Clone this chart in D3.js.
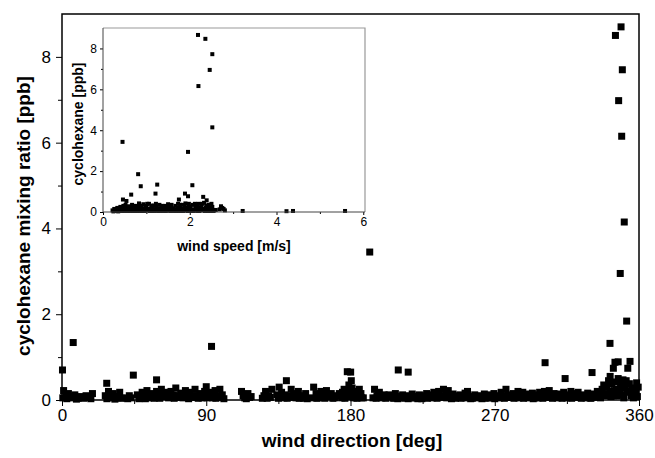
<!DOCTYPE html>
<html>
<head>
<meta charset="utf-8">
<script src="https://cdn.jsdelivr.net/npm/d3@7"></script>
<style>
  body { margin: 0; background: #fff; }
  svg { display: block; font-family: "Liberation Sans", Arial, sans-serif; }
</style>
</head>
<body>
<svg id="chart" width="655" height="458"></svg>
<script>
// main panel: wind direction [deg] vs cyclohexane [ppb]
var dirPeaks = [[0.3,0.7],[7,1.34],[93.3,1.25],[192,3.45],[345.3,8.5],[348.8,8.7],[349.6,7.7],[347.3,6.98],
  [349.2,6.15],[350.8,4.15],[348.3,2.95],[352.3,1.84],[341.9,1.32],[301.4,0.87],[345,0.88],[354.4,0.9],
  [347,0.89],[313.9,0.5],[330.7,0.64],[344,0.74],[342,0.55],[353,0.74],[350,0.47],[209.8,0.7],[216,0.65],
  [180.1,0.65],[178,0.66],[44.5,0.58],[59,0.47],[27.9,0.39],[140,0.45],[90,0.31]];

var dirBase = [[1,0.22],[2.5,0.1],[4,0.15],[5.5,0.05],[8,0.12],[10,0.04],[12,0.08],[15,0.1],[17,0.06],[19,0.15],
  [27,0.1],[29,0.2],[30.5,0.05],[32,0.15],[34,0.08],[36,0.18],[40,0.05],[42,0.1],
  [47,0.12],[48.5,0.05],[50,0.18],[51.5,0.08],[53,0.22],[54.5,0.1],[56,0.15],[57.5,0.04],[59,0.2],[60.5,0.12],
  [62,0.25],[63.5,0.08],[65,0.18],[66.5,0.05],[68,0.2],[69.5,0.12],[71,0.28],[72.5,0.1],[74,0.16],[75.5,0.05],
  [77,0.22],[78.5,0.12],[80,0.18],[81.5,0.06],[83,0.25],[84.5,0.1],[86,0.15],[87.5,0.05],[89,0.2],[91,0.12],
  [92.5,0.18],[94,0.05],[95.5,0.22],[97,0.1],[98.5,0.25],[100,0.12],
  [112,0.2],[114,0.05],[116,0.15],[118,0.08],[125,0.04],[127,0.2],[129,0.1],[131,0.25],
  [134,0.12],[135.5,0.3],[137,0.18],[138.5,0.05],[141.5,0.1],[143,0.25],[144.5,0.15],[146,0.05],[147.5,0.2],
  [149,0.1],[150.5,0.04],[152,0.15],
  [157,0.3],[158.5,0.15],[160,0.05],[161.5,0.2],[163,0.1],[165,0.22],[166.5,0.08],[168,0.15],[170,0.05],
  [173,0.15],[174.5,0.05],[176,0.25],[177.5,0.1],[179,0.35],[180,0.18],[181,0.28],[182,0.05],[183.5,0.2],
  [185,0.1],[186.5,0.15],[188,0.05],
  [195,0.25],[196.5,0.1],[198,0.18],[199.5,0.05],[201,0.12],[203,0.08],
  [205,0.1],[206.5,0.05],[208,0.15],[209.5,0.03],[211,0.08],[212.5,0.12],[214,0.04],[215.5,0.1],[217,0.06],
  [218.5,0.14],[220,0.05],[221.5,0.09],[223,0.12],[224.5,0.03],[226,0.1],[227.5,0.15],[229,0.06],[230.5,0.12],
  [232,0.18],[233.5,0.08],[235,0.2],[236.5,0.1],[238,0.25],[239.5,0.15],[241,0.22],[242.5,0.06],[244,0.14],
  [245.5,0.04],[247,0.1],[248.5,0.12],[250,0.06],[251.5,0.16],[253,0.2],[254.5,0.08],[256,0.04],[257.5,0.12],
  [259,0.06],[260.5,0.1],[262,0.03],[263.5,0.14],[265,0.08],[266.5,0.12],[268,0.05],[269.5,0.15],[271,0.1],
  [272.5,0.06],[274,0.18],[275.5,0.1],[277,0.25],[278.5,0.12],[280,0.06],[281.5,0.15],[283,0.08],[284.5,0.2],
  [286,0.12],[287.5,0.18],[289,0.06],[290.5,0.14],[292,0.1],[293.5,0.16],[295,0.05],[296.5,0.12],[298,0.18],
  [299.5,0.08],[301,0.2],[302.5,0.1],[304,0.22],[305.5,0.12],[307,0.15],[308.5,0.06],[310,0.14],[311.5,0.1],
  [313,0.18],[314.5,0.06],[316,0.12],[317.5,0.2],[319,0.08],[320.5,0.15],[322,0.18],[323.5,0.06],[325,0.12],
  [326.5,0.1],[328,0.16],[329.5,0.05],[331,0.14],[332.5,0.1],[334,0.2],[335.5,0.12],[337,0.25],[338,0.35],
  [339,0.15],[340,0.3],[341,0.45],[342,0.2],[343,0.38],[344,0.1],[345,0.42],[346,0.25],[347,0.5],[348,0.18],
  [349,0.35],[350,0.12],[351,0.3],[352,0.45],[353,0.2],[354,0.38],[355,0.1],[356,0.28],[357,0.15],[358,0.22],
  [359,0.08],[359.5,0.3]];

// lowest layer of the dense band near the axis
var dirLow = [[0.5,0.05],[3,0.03],[6.5,0.08],[9,0.02],[13.5,0.04],[18,0.03],
  [28,0.03],[31,0.12],[33,0.02],[35,0.05],[37,0.04],[41,0.03],[43,0.05],
  [48,0.03],[49,0.1],[52,0.03],[54,0.05],[55,0.12],[58,0.08],[61,0.04],[64,0.13],[67,0.1],[70,0.04],[73,0.06],
  [76,0.12],[79,0.03],[82,0.1],[85,0.04],[88,0.1],[90.5,0.05],[93,0.1],[96,0.04],[99,0.06],[101,0.03],
  [113,0.1],[115,0.03],[117,0.06],[126,0.1],[128,0.04],[130,0.06],
  [135,0.04],[136,0.1],[139,0.12],[140.5,0.04],[142,0.06],[145,0.08],[148,0.04],[151,0.08],[153,0.03],
  [156,0.05],[159,0.04],[162,0.06],[164,0.04],[167,0.12],[169,0.04],[171,0.1],
  [174,0.1],[175,0.18],[176.5,0.04],[178,0.2],[179.5,0.08],[180.5,0.45],[182.5,0.15],[184,0.04],[185.5,0.25],[187,0.05],
  [194,0.05],[196,0.04],[197.5,0.15],[200,0.1],[202,0.04],[204,0.12],
  [207,0.04],[210,0.05],[213,0.06],[216,0.03],[219,0.05],[222,0.03],[225,0.06],[228,0.04],[231,0.05],[234,0.04],
  [237,0.06],[240,0.05],[243,0.03],[246,0.06],[249,0.04],[252,0.05],[255,0.03],[258,0.05],[261,0.06],[264,0.04],
  [267,0.05],[270,0.03],[273,0.05],[276,0.04],[279,0.06],[282,0.04],[285,0.05],[288,0.04],[291,0.05],[294,0.03],
  [297,0.05],[300,0.04],[303,0.06],[306,0.04],[309,0.05],[312,0.04],[315,0.05],[318,0.04],[321,0.06],[324,0.04],
  [327,0.05],[330,0.04],[333,0.06],[336,0.05],[338.5,0.1],[340.5,0.12],[342.5,0.08],[344.5,0.22],[346.5,0.1],
  [348.5,0.28],[350.5,0.05],[352.5,0.18],[354.5,0.22],[356.5,0.05],[358.5,0.4]];

var dirTicks = [0, 90, 180, 270, 360];
var dirMinor = [45, 135, 225, 315];
var ppbTicks = [0, 2, 4, 6, 8];
var ppbMinor = [1, 3, 5, 7];

// inset: wind speed [m/s] vs cyclohexane [ppb]
var speedPeaks = [[2.19,8.66],[2.36,8.47],[2.52,7.72],[2.46,6.95],[2.2,6.16],[2.52,4.14],[0.45,3.43],[1.96,2.94],
  [0.81,1.85],[0.87,1.26],[1.25,1.34],[2.06,1.31],[0.65,0.85],[0.46,0.61],[1.21,0.9],[1.89,0.9],[1.96,0.77],
  [1.75,0.61],[2.31,0.74],[2.39,0.57],[0.54,0.54],[2.75,0.2],[2.69,0.13],[2.81,0.08],[3.22,0.05],[4.23,0.04],
  [4.38,0.05],[5.58,0.05]];

var speedBase = [[0.22,0.08],[0.26,0.15],[0.3,0.05],[0.33,0.2],[0.36,0.1],[0.4,0.25],[0.43,0.05],[0.47,0.3],
  [0.5,0.12],[0.53,0.2],[0.57,0.05],[0.6,0.28],[0.63,0.1],[0.67,0.35],[0.7,0.15],[0.73,0.05],[0.76,0.3],
  [0.8,0.12],[0.83,0.42],[0.86,0.2],[0.9,0.05],[0.93,0.38],[0.96,0.15],[1.0,0.3],[1.03,0.08],[1.06,0.4],
  [1.1,0.18],[1.13,0.05],[1.16,0.32],[1.2,0.12],[1.23,0.25],[1.27,0.05],[1.3,0.35],[1.33,0.15],[1.37,0.22],
  [1.4,0.05],[1.43,0.3],[1.47,0.12],[1.5,0.38],[1.53,0.08],[1.57,0.25],[1.6,0.15],[1.63,0.05],[1.67,0.3],
  [1.7,0.12],[1.73,0.4],[1.77,0.2],[1.8,0.05],[1.83,0.35],[1.87,0.15],[1.9,0.42],[1.93,0.08],[1.97,0.3],
  [2.0,0.18],[2.03,0.05],[2.07,0.35],[2.1,0.12],[2.13,0.28],[2.17,0.05],[2.2,0.4],[2.23,0.15],[2.27,0.3],
  [2.3,0.08],[2.33,0.45],[2.37,0.2],[2.4,0.1],[2.43,0.35],[2.47,0.15],[2.5,0.4],[2.53,0.1]];

var speedLow = [[0.24,0.03],[0.28,0.05],[0.32,0.1],[0.35,0.03],[0.38,0.18],[0.42,0.1],[0.45,0.18],[0.49,0.05],
  [0.52,0.35],[0.55,0.1],[0.58,0.18],[0.62,0.05],[0.65,0.2],[0.69,0.05],[0.72,0.25],[0.75,0.15],[0.78,0.05],
  [0.82,0.25],[0.85,0.05],[0.88,0.3],[0.92,0.18],[0.95,0.05],[0.98,0.22],[1.02,0.4],[1.05,0.15],[1.08,0.05],
  [1.12,0.3],[1.15,0.15],[1.18,0.05],[1.22,0.4],[1.25,0.08],[1.28,0.18],[1.32,0.05],[1.35,0.3],[1.38,0.1],
  [1.42,0.18],[1.45,0.05],[1.48,0.25],[1.52,0.2],[1.55,0.05],[1.58,0.35],[1.62,0.18],[1.65,0.1],[1.68,0.05],
  [1.72,0.22],[1.75,0.05],[1.78,0.35],[1.82,0.15],[1.85,0.05],[1.88,0.25],[1.92,0.2],[1.95,0.05],[1.98,0.4],
  [2.02,0.25],[2.05,0.1],[2.08,0.05],[2.12,0.4],[2.15,0.15],[2.18,0.25],[2.22,0.05],[2.25,0.2],[2.28,0.4],
  [2.32,0.15],[2.35,0.05],[2.38,0.3],[2.42,0.05],[2.45,0.22],[2.48,0.05],[2.52,0.25],[2.55,0.05],[2.6,0.1],
  [2.72,0.28],[2.78,0.15]];

var speedTicks = [0, 2, 4, 6];
var speedMinor = [1, 3, 5];

var svg = d3.select("#chart");

var x = d3.scaleLinear().domain([0, 360]).range([62, 639]);
var y = d3.scaleLinear().domain([0, 9]).range([400, 14]);

function styleAxis(g, size) {
  g.attr("font-family", "'Liberation Sans', Arial, sans-serif").attr("font-size", size);
  g.select(".domain").remove();
  g.selectAll("line").attr("stroke", "#000");
  g.selectAll("text").attr("fill", "#000");
}

// main minor ticks
svg.append("g").attr("transform", "translate(0,400)")
  .call(d3.axisBottom(x).tickValues(dirMinor).tickSize(4).tickFormat(""))
  .call(styleAxis, 17);
svg.append("g").attr("transform", "translate(62,0)")
  .call(d3.axisLeft(y).tickValues(ppbMinor).tickSize(4).tickFormat(""))
  .call(styleAxis, 17);

// main major ticks
svg.append("g").attr("transform", "translate(0,400)")
  .call(d3.axisBottom(x).tickValues(dirTicks).tickSize(6).tickPadding(3))
  .call(styleAxis, 17);
svg.append("g").attr("transform", "translate(62,0)")
  .call(d3.axisLeft(y).tickValues(ppbTicks).tickSize(6).tickPadding(5))
  .call(styleAxis, 17);

// main points
var s = 7;
svg.append("g").selectAll("rect")
  .data(dirLow.concat(dirBase, dirPeaks))
  .join("rect")
  .attr("x", function(d){ return x(d[0]) - s/2; })
  .attr("y", function(d){ return y(d[1]) - s/2; })
  .attr("width", s).attr("height", s)
  .attr("fill", "#000");

// main frame
svg.append("rect")
  .attr("x", x(0)).attr("y", y(9))
  .attr("width", x(360) - x(0)).attr("height", y(0) - y(9))
  .attr("fill", "none").attr("stroke", "#000").attr("stroke-width", 1.5);

svg.append("text")
  .attr("x", 352).attr("y", 447)
  .attr("text-anchor", "middle")
  .attr("font-size", 19).attr("font-weight", "bold")
  .text("wind direction [deg]");

svg.append("text")
  .attr("transform", "translate(30,216) rotate(-90)")
  .attr("text-anchor", "middle")
  .attr("font-size", 19).attr("font-weight", "bold")
  .text("cyclohexane mixing ratio [ppb]");

// inset
var xi = d3.scaleLinear().domain([0, 6.04]).range([103, 365]);
var yi = d3.scaleLinear().domain([0, 9]).range([212, 28]);

svg.append("rect")
  .attr("x", xi(0)).attr("y", yi(9))
  .attr("width", xi(6.04) - xi(0)).attr("height", yi(0) - yi(9))
  .attr("fill", "#fff");

svg.append("g").attr("transform", "translate(0,212)")
  .call(d3.axisBottom(xi).tickValues(speedMinor).tickSize(2).tickFormat(""))
  .call(styleAxis, 12);
svg.append("g").attr("transform", "translate(103,0)")
  .call(d3.axisLeft(yi).tickValues(ppbMinor).tickSize(2).tickFormat(""))
  .call(styleAxis, 12);
svg.append("g").attr("transform", "translate(0,212)")
  .call(d3.axisBottom(xi).tickValues(speedTicks).tickSize(3).tickPadding(2).tickFormat(d3.format("d")))
  .call(styleAxis, 12);
svg.append("g").attr("transform", "translate(103,0)")
  .call(d3.axisLeft(yi).tickValues(ppbTicks).tickSize(3).tickPadding(3).tickFormat(d3.format("d")))
  .call(styleAxis, 12);

var si = 4;
svg.append("g").selectAll("rect")
  .data(speedLow.concat(speedBase, speedPeaks))
  .join("rect")
  .attr("x", function(d){ return xi(d[0]) - si/2; })
  .attr("y", function(d){ return yi(d[1]) - si/2; })
  .attr("width", si).attr("height", si)
  .attr("fill", "#000");

// inset frame: grey top/right, darker axes
svg.append("path")
  .attr("d", "M" + xi(0) + "," + yi(9) + "H" + xi(6.04) + "V" + yi(0))
  .attr("fill", "none").attr("stroke", "#999").attr("stroke-width", 1.2);
svg.append("path")
  .attr("d", "M" + xi(0) + "," + yi(9) + "V" + yi(0) + "H" + xi(6.04))
  .attr("fill", "none").attr("stroke", "#444").attr("stroke-width", 1);

svg.append("text")
  .attr("x", 234).attr("y", 251)
  .attr("text-anchor", "middle")
  .attr("font-size", 14).attr("font-weight", "bold")
  .text("wind speed [m/s]");

svg.append("text")
  .attr("transform", "translate(83,124) rotate(-90)")
  .attr("text-anchor", "middle")
  .attr("font-size", 14).attr("font-weight", "bold")
  .text("cyclohexane [ppb]");
</script>
</body>
</html>
